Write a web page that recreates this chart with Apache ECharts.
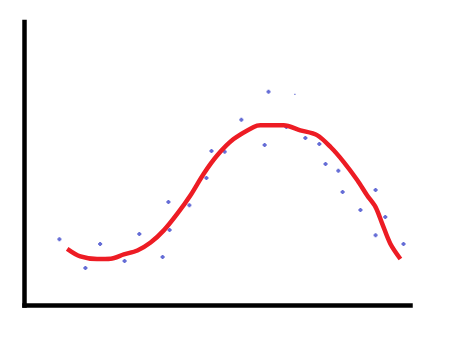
<!DOCTYPE html>
<html>
<head>
<meta charset="utf-8">
<script src="https://cdn.jsdelivr.net/npm/echarts@6/dist/echarts.min.js"></script>
<style>html,body{margin:0;padding:0;background:#fff}#c{width:455px;height:345px}</style>
</head>
<body>
<div id="c"></div>
<script>
// Scatter observations (arbitrary units)
const pointX = [0.90,1.57,1.95,2.58,2.96,3.56,3.71,3.74,4.25,4.69,4.82,5.16,5.59,6.19,6.29,6.75,7.24,7.60,7.76,8.09,8.20,8.66,9.05,9.30,9.05,9.77];
const pointY = [2.34,1.32,2.17,1.57,2.52,1.71,3.65,2.66,3.54,4.50,5.45,5.42,6.55,5.66,7.54,6.30,5.91,5.70,4.99,4.75,4.00,3.37,4.07,3.12,2.48,2.17];
// stray tiny dot
const strayX = [6.97];
const strayY = [7.45];
// Fitted trend curve
const curveX = [1.10,1.44,1.87,2.22,2.56,2.91,3.25,3.59,3.94,4.28,4.62,4.97,5.39,5.91,6.08,6.68,7.11,7.54,7.89,8.23,8.58,8.83,9.05,9.22,9.43,9.69];
const curveY = [2.00,1.73,1.64,1.65,1.80,1.94,2.22,2.65,3.24,3.89,4.65,5.30,5.87,6.30,6.36,6.36,6.18,6.01,5.59,5.06,4.42,3.89,3.47,2.89,2.18,1.64];

const chart = echarts.init(document.getElementById('c'), null, {renderer: 'canvas'});
const zip = (a, b) => a.map((v, i) => [v, b[i]]);
const axisCommon = {
  type: 'value', min: 0,
  axisLine: {show: true, lineStyle: {color: '#000', width: 4.5, cap: 'square'}},
  axisTick: {show: false}, axisLabel: {show: false}, splitLine: {show: false}
};
chart.setOption({
  animation: false,
  backgroundColor: '#fff',
  grid: {left: 24.5, top: 22, width: 386, height: 283.5},
  xAxis: Object.assign({}, axisCommon, {max: 9.95}),
  yAxis: Object.assign({}, axisCommon, {max: 10}),
  series: [
    {type: 'scatter', data: zip(pointX, pointY), symbol: 'path://M1,0H3V1H4V3H3V4H1V3H0V1H1Z', symbolSize: 4, itemStyle: {color: '#3f48cc'}, z: 2},
    {type: 'scatter', data: zip(strayX, strayY), symbol: 'rect', symbolSize: 1.2, itemStyle: {color: '#3f48cc'}, z: 2},
    {type: 'line', data: zip(curveX, curveY), smooth: 0.3, showSymbol: false, lineStyle: {color: '#ed1c24', width: 4.5}, z: 3}
  ]
});
</script>
</body>
</html>
